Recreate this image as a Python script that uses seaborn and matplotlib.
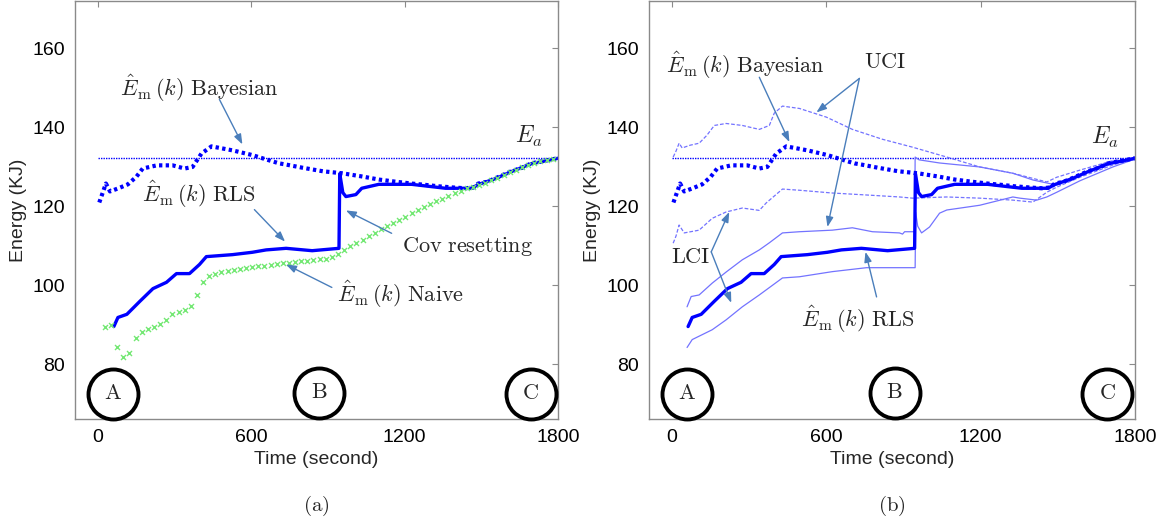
import numpy as np
import pandas as pd
import matplotlib
matplotlib.use("Agg")
import matplotlib.pyplot as plt
import seaborn as sns

sns.set_style("white")
plt.rcParams['font.family'] = ['Liberation Sans', 'DejaVu Sans']
plt.rcParams['mathtext.fontset'] = 'cm'

# ---------------- data ----------------
x_ticks = [0, 600, 1200, 1800]
y_ticks = [80, 100, 120, 140, 160]

E_a = 132.2
t_ea = [0, 1800]

t_bayes = [5, 31, 47, 80, 117, 150, 175, 230, 292, 339, 370, 405, 444, 526, 604, 658, 709, 736,
           800, 880, 955, 1032, 1100, 1160, 1227, 1290, 1332, 1390, 1437, 1470, 1488, 1520, 1554,
           1617, 1660, 1695, 1750, 1800]
e_bayes = [121, 125.8, 123.8, 124.6, 125.6, 127.5, 129.6, 130.4, 130.4, 129.6, 130, 133.4, 135.2,
           134.2, 133, 131.9, 130.9, 130.6, 129.8, 128.9, 128.4, 127.6, 126.8, 126.3, 125.8, 125.4,
           125.1, 124.8, 124.6, 124.8, 125.8, 126.2, 127.1, 128.9, 129.8, 130.9, 131.6, 132.2]

t_rls = [62, 78, 113, 164, 215, 268, 307, 358, 397, 424, 526, 604, 658, 736, 838, 943, 946, 958,
         970, 1009, 1032, 1099, 1227, 1360, 1461, 1490, 1554, 1617, 1695, 1750, 1800]
e_rls = [89.6, 91.9, 92.7, 96, 99.2, 100.8, 103, 103, 105.3, 107.3, 107.8, 108.4, 109, 109.4, 108.8,
         109.4, 128.3, 123.5, 122.5, 123, 124.6, 125.6, 125.6, 124.6, 124.6, 125.6, 127, 128.8,
         130.8, 131.5, 132.2]

t_naive = [27, 51, 75, 99, 123, 147, 171, 195, 219, 243, 267, 291, 315, 339, 363, 387, 411, 435,
           459, 483, 507, 531, 555, 579, 603, 627, 651, 675, 699, 723, 747, 771, 795, 819, 843, 867,
           891, 915, 939, 963, 987, 1011, 1035, 1059, 1083, 1107, 1131, 1155, 1179, 1203, 1227,
           1251, 1275, 1299, 1323, 1347, 1371, 1395, 1419, 1443, 1467, 1491, 1515, 1539, 1563,
           1587, 1611, 1635, 1659, 1683, 1707, 1731, 1755, 1779]
e_naive = [89.4, 90.1, 84.3, 81.8, 83.0, 86.6, 88.2, 89.1, 89.5, 90.3, 91.3, 92.7, 93.3, 93.8,
           94.8, 97.5, 100.8, 102.4, 103.0, 103.3, 103.6, 103.9, 104.1, 104.4, 104.6, 104.8, 105.0,
           105.2, 105.4, 105.6, 105.8, 106.0, 106.1, 106.3, 106.4, 106.6, 106.7, 107.2, 108.0,
           109.0, 109.9, 110.8, 111.6, 112.4, 113.2, 114.2, 115.0, 115.8, 116.6, 117.4, 118.3,
           119.0, 119.8, 120.6, 121.3, 122.0, 122.7, 123.3, 124.0, 124.6, 125.0, 125.4, 126.0,
           126.6, 127.3, 127.9, 128.6, 129.3, 129.9, 130.5, 131.0, 131.4, 131.8, 132.0]

t_bayes_uci = [4, 15, 27, 39, 70, 105, 135, 164, 210, 273, 339, 378, 397, 429, 495, 600, 701, 818,
               935, 1068, 1196, 1325, 1457, 1496, 1586, 1714, 1800]
e_bayes_uci = [132.5, 134, 136, 134.8, 135.5, 136, 138, 140.5, 141, 140.5, 139.5, 140.5, 143.6,
               145.4, 144.8, 142.6, 139.5, 137, 135, 132.5, 130, 128.4, 126.2, 127.4, 129.2,
               131.6, 132.2]

t_bayes_lci = [4, 15, 27, 47, 105, 156, 210, 273, 339, 366, 429, 495, 623, 756, 884, 935, 1068,
               1196, 1325, 1403, 1457, 1496, 1586, 1714, 1800]
e_bayes_lci = [110.7, 112.5, 115.3, 113.3, 114, 117, 118.6, 119.6, 119, 120.9, 124.4, 124.1,
               123.4, 122.9, 122.4, 122.1, 122.4, 122.1, 121.6, 121.1, 123.6, 124.9, 127.4,
               130.5, 132]

t_rls_uci = [58, 74, 105, 156, 210, 273, 339, 378, 429, 495, 623, 701, 779, 884, 896, 904, 943,
             945, 960, 1040, 1196, 1325, 1403, 1496, 1586, 1714, 1800]
e_rls_uci = [94.6, 97.2, 97.6, 100.6, 103.4, 106.5, 109, 110.8, 113.3, 113.6, 114, 114.6, 113.6,
             113.3, 113, 113.6, 113.6, 132.5, 131.8, 131, 130, 128.4, 126.7, 125.4, 128, 131, 132.2]

t_rls_lci = [58, 78, 156, 210, 273, 339, 429, 495, 623, 756, 884, 945, 947, 955, 970, 1001, 1040,
             1068, 1196, 1325, 1352, 1418, 1457, 1496, 1586, 1714, 1800]
e_rls_lci = [84.3, 86.3, 88.8, 91.3, 94.6, 97.6, 101.9, 102.2, 103.5, 104.5, 104.5, 104.5, 118.5,
             115, 113.3, 114.8, 118.3, 119.1, 120.3, 122.4, 122.1, 121.6, 122.4, 123.6, 126.5,
             130, 132]

circle_labels = ['A', 'B', 'C']
circle_t = [58, 865, 1693]
circle_e = [72.6, 72.8, 72.6]

BLUE = '#0000ff'
LIGHT = '#7373ff'
GREEN = '#74e874'
ARROW = '#4a7ebb'
GRAY = '#8a8a8a'

fig = plt.figure(figsize=(11.75, 5.25), dpi=100)
ax_a = fig.add_axes([75 / 1175, 1 - 419 / 525, 483 / 1175, 418 / 525])
ax_b = fig.add_axes([649 / 1175, 1 - 419 / 525, 486 / 1175, 418 / 525])


def line(ax, t, e, **kw):
    sns.lineplot(x=t, y=e, ax=ax, sort=False, estimator=None, legend=False, **kw)


def arrow(ax, start, end):
    ax.annotate('', xy=end, xytext=start,
                arrowprops=dict(arrowstyle='-|>,head_length=0.6,head_width=0.22',
                                color=ARROW, lw=1.0, shrinkA=0, shrinkB=0))


def txt(ax, x, y, s, ha='left', size=16):
    ax.text(x, y, s, ha=ha, va='center', fontsize=size)


def style(ax, caption):
    ax.set_xlim(-90, 1800)
    ax.set_ylim(66.2, 172)
    ax.set_xticks(x_ticks)
    ax.set_yticks(y_ticks)
    ax.tick_params(direction='in', length=4, color=GRAY, labelsize=14, top=True, right=True,
                   labelcolor='black', pad=7)
    for s in ax.spines.values():
        s.set_color(GRAY)
        s.set_linewidth(1.0)
    ax.set_xlabel('Time (second)', fontsize=14, labelpad=4)
    ax.set_ylabel('Energy (KJ)', fontsize=14, labelpad=4)
    for lab, ct, ce in zip(circle_labels, circle_t, circle_e):
        ax.plot([ct], [ce], marker='o', markersize=36, mfc='none', mec='black', mew=2.8,
                clip_on=False, zorder=5)
        ax.text(ct, ce, r'$\mathrm{' + lab + '}$', ha='center', va='center', fontsize=16)
    ax.text(0.5, -0.207, r'$\mathrm{(' + caption + ')}$', transform=ax.transAxes,
            ha='center', va='center', fontsize=15)


EHAT = r'$\hat{E}_{\mathrm{m}}\,(k)\ \mathrm{%s}$'

# ---------------- panel (a) ----------------
ax = ax_a
line(ax, t_ea, [E_a, E_a], color=BLUE, lw=1.0, linestyle=(0, (1.0, 0.8)))
sns.scatterplot(x=t_naive, y=e_naive, ax=ax, marker='x', color=GREEN, s=13, linewidth=1.0,
                legend=False, zorder=3)
line(ax, t_bayes, e_bayes, color=BLUE, lw=3.0, linestyle=(0, (0.8, 0.8)))
line(ax, t_rls, e_rls, color=BLUE, lw=2.4)
txt(ax, 86, 150, EHAT % 'Bayesian')
arrow(ax, (475, 147.1), (565, 135.7))
txt(ax, 171, 123, EHAT % 'RLS')
arrow(ax, (612, 119.2), (732, 111.1))
txt(ax, 1188, 109.9, r'$\mathrm{Cov\ resetting}$')
arrow(ax, (1149, 113.2), (970, 119))
txt(ax, 935, 97.7, EHAT % 'Naive')
arrow(ax, (915, 99.5), (736, 105.3))
txt(ax, 1687, 137.7, r'$E_a$', ha='center', size=17)
style(ax, 'a')

# ---------------- panel (b) ----------------
ax = ax_b
line(ax, t_ea, [E_a, E_a], color=BLUE, lw=1.0, linestyle=(0, (1.0, 0.8)))
line(ax, t_bayes_uci, e_bayes_uci, color=LIGHT, lw=0.9, linestyle=(0, (3, 1.5)))
line(ax, t_bayes_lci, e_bayes_lci, color=LIGHT, lw=0.9, linestyle=(0, (3, 1.5)))
line(ax, t_rls_uci, e_rls_uci, color=LIGHT, lw=0.9)
line(ax, t_rls_lci, e_rls_lci, color=LIGHT, lw=0.9)
line(ax, t_bayes, e_bayes, color=BLUE, lw=3.0, linestyle=(0, (0.8, 0.8)))
line(ax, t_rls, e_rls, color=BLUE, lw=2.4)
txt(ax, -23, 155.7, EHAT % 'Bayesian')
arrow(ax, (339, 152.7), (456, 136.3))
txt(ax, 830, 156.5, r'$\mathrm{UCI}$', ha='center')
arrow(ax, (728, 152.4), (561, 143.8))
arrow(ax, (728, 152.4), (604, 114.8))
txt(ax, -4, 107.2, r'$\mathrm{LCI}$')
arrow(ax, (152, 108.5), (222, 118.6))
arrow(ax, (152, 108.5), (230, 95.6))
txt(ax, 502, 91.3, EHAT % 'RLS')
arrow(ax, (795, 97.1), (752, 108.5))
txt(ax, 1683, 137.5, r'$E_a$', ha='center', size=17)
style(ax, 'b')

fig.savefig('out.png', dpi=100)
